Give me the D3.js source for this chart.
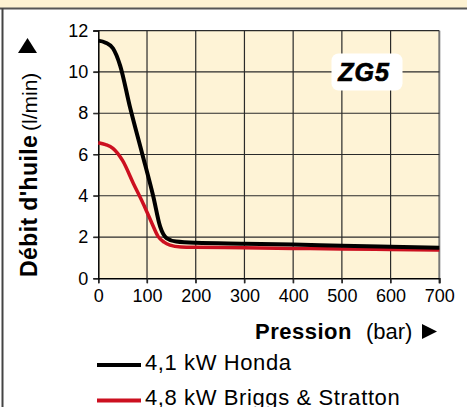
<!DOCTYPE html>
<html>
<head>
<meta charset="utf-8">
<script src="https://cdn.jsdelivr.net/npm/d3@7"></script>
<style>
  body { margin: 0; background: #fff; }
  svg { display: block; font-family: "Liberation Sans", Arial, Helvetica, sans-serif; }
</style>
</head>
<body>
<div id="chart-container"></div>
<script>
// values
var hondaPressure = [0, 15, 30, 45, 65, 90, 113, 127, 140, 160, 200, 300, 400, 500, 600, 700]
var hondaFlow = [11.52, 11.42, 11.15, 10.3, 8.3, 6.05, 3.95, 2.5, 1.95, 1.78, 1.72, 1.68, 1.64, 1.58, 1.53, 1.48]

var briggsPressure = [0, 15, 30, 50, 72, 92, 110, 123, 135, 147, 170, 200, 300, 400, 500, 600, 700]
var briggsFlow = [6.57, 6.48, 6.3, 5.7, 4.6, 3.63, 2.67, 2.02, 1.75, 1.61, 1.52, 1.5, 1.48, 1.45, 1.42, 1.4, 1.37]

var xTicks = [0, 100, 200, 300, 400, 500, 600, 700]
var yTicks = [0, 2, 4, 6, 8, 10, 12]

var seriesNames = ['4,1 kW Honda', '4,8 kW Briggs & Stratton']
var seriesColours = ['#000000', '#cc1020']

var width = 467, height = 407

var svg = d3.select('#chart-container')
  .append('svg')
  .attr('width', width)
  .attr('height', height)

// frame bits from the surrounding page
svg.append('rect')
  .attr('x', 0).attr('y', 0)
  .attr('width', width).attr('height', 8)
  .attr('fill', '#fdf2d2')
svg.append('line')
  .attr('x1', 0).attr('x2', width)
  .attr('y1', 8.5).attr('y2', 8.5)
  .attr('stroke', '#555').attr('stroke-width', 2)
svg.append('line')
  .attr('x1', 2.5).attr('x2', 2.5)
  .attr('y1', 8).attr('y2', height)
  .attr('stroke', '#444').attr('stroke-width', 2)

var x = d3.scaleLinear().domain([0, 700]).range([98.3, 439.3])
var y = d3.scaleLinear().domain([0, 12]).range([278.3, 30.7])

// plot background
svg.append('rect')
  .attr('x', x(0)).attr('y', y(12))
  .attr('width', x(700) - x(0)).attr('height', y(0) - y(12))
  .attr('fill', '#fef3d6')

// grid
svg.append('g')
  .selectAll('line')
  .data(xTicks.slice(1))
  .enter().append('line')
    .attr('x1', d => x(d)).attr('x2', d => x(d))
    .attr('y1', y(12)).attr('y2', y(0) + 5)
    .attr('stroke', d => d == 700 ? '#777' : '#2a2a2a')
    .attr('stroke-width', d => d == 700 ? 2 : 1.2)

svg.append('g')
  .selectAll('line')
  .data(yTicks.slice(1))
  .enter().append('line')
    .attr('x1', x(0) - 5).attr('x2', x(700))
    .attr('y1', d => y(d)).attr('y2', d => y(d))
    .attr('stroke', '#2a2a2a')
    .attr('stroke-width', 1.2)

// axes
var xAxis = svg.append('g')
  .attr('transform', 'translate(0,' + y(0) + ')')
  .call(d3.axisBottom(x).tickValues(xTicks).tickSize(5).tickPadding(6))
var yAxis = svg.append('g')
  .attr('transform', 'translate(' + x(0) + ',0)')
  .call(d3.axisLeft(y).tickValues(yTicks).tickSize(5).tickPadding(5))

xAxis.select('.domain').attr('stroke', '#000').attr('stroke-width', 1.5)
yAxis.select('.domain').attr('stroke', '#000').attr('stroke-width', 1.5)
xAxis.selectAll('.tick line').attr('stroke', '#2a2a2a').attr('stroke-width', 1.2)
yAxis.selectAll('.tick line').attr('stroke', '#2a2a2a').attr('stroke-width', 1.2)
xAxis.selectAll('.tick text')
  .style('font-size', '18px')
  .style('font-family', '"Liberation Sans", Arial, sans-serif')
  .attr('fill', '#000')
yAxis.selectAll('.tick text')
  .style('font-size', '18px')
  .style('font-family', '"Liberation Sans", Arial, sans-serif')
  .attr('fill', '#000')

// curves
var line = d3.line()
  .x(d => x(d[0]))
  .y(d => y(d[1]))
  .curve(d3.curveMonotoneX)

var series = [
  d3.zip(hondaPressure, hondaFlow),
  d3.zip(briggsPressure, briggsFlow)
]

svg.append('g')
  .selectAll('path')
  .data([series[1], series[0]])
  .enter().append('path')
    .attr('d', line)
    .attr('fill', 'none')
    .attr('stroke', (d, i) => i == 0 ? seriesColours[1] : seriesColours[0])
    .attr('stroke-width', (d, i) => i == 0 ? 3.5 : 4)
    .attr('stroke-linejoin', 'round')

// ZG5 badge
svg.append('rect')
  .attr('x', 331.5).attr('y', 53.5)
  .attr('width', 71).attr('height', 37)
  .attr('rx', 7)
  .attr('fill', '#fff')
svg.append('text')
  .attr('x', 364).attr('y', 80.5)
  .attr('text-anchor', 'middle')
  .style('font-size', '25px')
  .style('font-weight', 'bold')
  .style('font-style', 'italic')
  .style('letter-spacing', '1px')
  .attr('stroke', '#000')
  .attr('stroke-width', 0.7)
  .text('ZG5')

// y axis title
svg.append('text')
  .attr('transform', 'translate(37,277) rotate(-90)')
  .style('font-size', '23px')
  .style('font-weight', 'bold')
  .style('letter-spacing', '0.4px')
  .text("Débit d'huile")
svg.append('text')
  .attr('transform', 'translate(37,131) rotate(-90)')
  .style('font-size', '21px')
  .text('(l/min)')
svg.append('path')
  .attr('d', 'M18,53 L37,53 L27.5,38 Z')
  .attr('fill', '#000')

// x axis title
svg.append('text')
  .attr('x', 255).attr('y', 339)
  .style('font-size', '22px')
  .style('font-weight', 'bold')
  .style('letter-spacing', '0.5px')
  .text('Pression')
svg.append('text')
  .attr('x', 366).attr('y', 339)
  .style('font-size', '22px')
  .text('(bar)')
svg.append('path')
  .attr('d', 'M422,324 L422,339 L437,331.5 Z')
  .attr('fill', '#000')

// legend
var legend = svg.append('g')
  .selectAll('g')
  .data(seriesNames)
  .enter().append('g')
    .attr('transform', (d, i) => 'translate(97,' + (365 + i * 35.5) + ')')

legend.append('line')
  .attr('x1', 0).attr('x2', 44)
  .attr('stroke', (d, i) => seriesColours[i])
  .attr('stroke-width', 4)
legend.append('text')
  .attr('x', 48).attr('y', 4.5)
  .style('font-size', '22px')
  .style('letter-spacing', '0.6px')
  .text(d => d)
</script>
</body>
</html>
